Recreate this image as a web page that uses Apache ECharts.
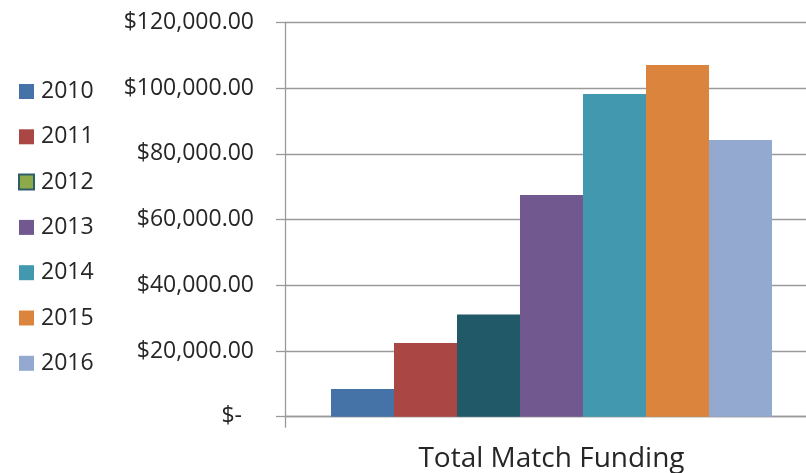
<!DOCTYPE html>
<html>
<head>
<meta charset="utf-8">
<script src="https://cdn.jsdelivr.net/npm/echarts@6/dist/echarts.min.js"></script>
<style>
  html, body { margin: 0; padding: 0; background: #fff; overflow: hidden; }
  /* chart canvas is wider than the window; the plot runs past the right edge */
  #chart { width: 830px; height: 473px; }
</style>
</head>
<body>
<div id="chart"></div>
<script>
// Match funding totals by year (USD)
const categories = ['Total Match Funding'];
const years = ['2010', '2011', '2012', '2013', '2014', '2015', '2016'];
const values = [8400, 22400, 31100, 67450, 98200, 107000, 84200];
const barColors = ['#4572A7', '#AA4643', '#215968', '#71588F', '#4198AF', '#DB843D', '#93A9CF'];
const yTickLabels = ['$-', '$20,000.00', '$40,000.00', '$60,000.00', '$80,000.00', '$100,000.00', '$120,000.00'];
const yStep = 20000;

const FONT = '"Open Sans", "Noto Sans", sans-serif';
const TEXT = '#262626';
const LINE = '#9a9a9a';

const chart = echarts.init(document.getElementById('chart'), null, { renderer: 'canvas' });

const series = years.map((y, i) => ({
  name: y,
  type: 'bar',
  data: [values[i]],
  barWidth: 63,
  barGap: '0%',
  itemStyle: { color: barColors[i] },
  emphasis: { disabled: true }
}));

const legendData = years.map((y, i) => {
  const item = { name: y };
  if (y === '2012') {
    item.itemStyle = { color: '#8CAA4A', borderColor: '#2E5C68', borderWidth: 2 };
  }
  return item;
});

chart.setOption({
  animation: false,
  backgroundColor: '#fff',
  textStyle: { fontFamily: FONT },
  legend: {
    orient: 'vertical',
    left: 18,
    top: 79,
    padding: 0,
    icon: 'rect',
    itemWidth: 15,
    itemHeight: 15,
    itemGap: 20.3,
    data: legendData,
    textStyle: { fontFamily: FONT, fontSize: 23, color: TEXT, lineHeight: 25, padding: [0, 0, 0, 2] },
    selectedMode: false
  },
  grid: { left: 285, right: 12, top: 22.3, bottom: 56.3, containLabel: false },
  xAxis: {
    type: 'category',
    data: categories,
    boundaryGap: true,
    axisLine: { show: true, lineStyle: { color: LINE, width: 1.3 } },
    axisTick: { show: true, length: 11, lineStyle: { color: LINE, width: 1.3 } },
    axisLabel: { fontFamily: FONT, fontSize: 28, color: TEXT, margin: 28 }
  },
  yAxis: {
    type: 'value',
    min: 0,
    max: 120000,
    interval: yStep,
    axisLine: { show: true, lineStyle: { color: LINE, width: 1.3 } },
    axisTick: { show: true, length: 9, lineStyle: { color: LINE, width: 1.3 } },
    splitLine: { show: true, lineStyle: { color: LINE, width: 1.3 } },
    axisLabel: {
      fontFamily: FONT,
      fontSize: 23,
      color: TEXT,
      margin: 31,
      formatter: (v) => {
        const label = yTickLabels[Math.round(v / yStep)];
        return v === 0 ? '{z|' + label + '}' : label;
      },
      rich: { z: { fontFamily: FONT, fontSize: 23, color: TEXT, padding: [0, 12, 0, 0] } }
    }
  },
  series: series
});
</script>
</body>
</html>
